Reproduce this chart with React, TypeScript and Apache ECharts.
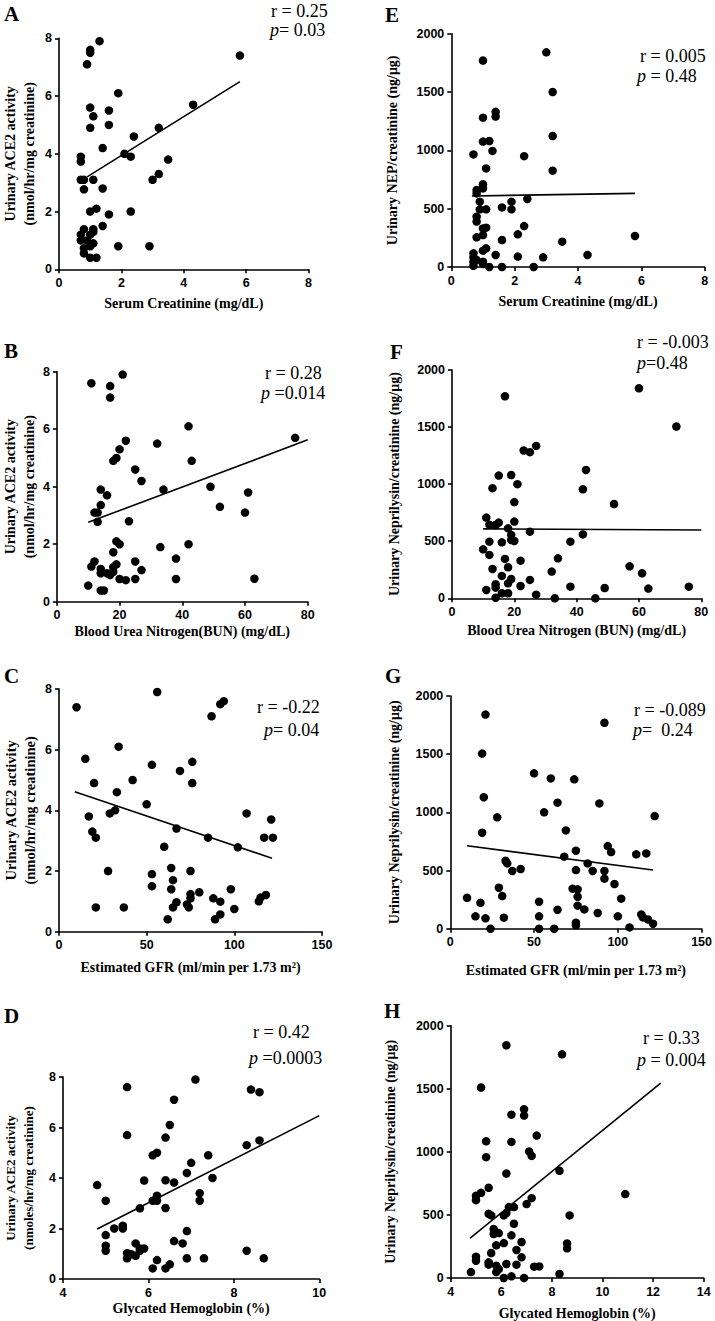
import React, { useEffect, useRef } from 'react';
import * as echarts from 'echarts';

// ---------- Data ----------
const pointsA: number[][] = [
  [1.3, 7.9], [1.0, 7.6], [1.0, 7.5], [0.9, 7.1], [5.8, 7.4], [1.9, 6.1], [1.0, 5.6], [1.6, 5.5], [1.1, 5.3],
  [4.3, 5.7], [1.6, 5.0], [1.0, 4.9], [3.2, 4.9], [2.4, 4.6], [1.4, 4.2], [2.1, 4.0], [0.7, 3.9], [0.7, 3.73],
  [2.3, 3.9], [3.5, 3.8], [3.2, 3.3], [3.0, 3.1], [0.7, 3.1], [0.8, 3.1], [1.1, 3.1], [0.8, 2.77], [1.4, 2.8],
  [1.2, 2.1], [1.0, 2.0], [1.6, 1.9], [2.3, 2.0], [1.4, 1.5], [0.8, 1.39], [1.1, 1.39], [0.7, 1.2], [1.0, 1.2],
  [1.1, 1.3], [0.7, 1.0], [0.9, 1.0], [1.1, 0.9], [1.0, 0.8], [0.8, 0.73], [0.8, 0.55], [1.9, 0.8], [2.9, 0.8],
  [1.0, 0.4], [1.2, 0.4],
];
const fitA: number[][] = [[0.9, 3.2], [5.8, 6.5]];

const pointsE: number[][] = [
  [3.0, 1840], [1.0, 1770], [3.2, 1500], [1.4, 1330], [1.4, 1290], [1.0, 1280], [1.0, 1075], [1.2, 1080],
  [3.2, 1123], [0.7, 965], [1.3, 995], [2.3, 950], [1.1, 845], [3.2, 826], [1.0, 709], [1.0, 674], [0.8, 660],
  [0.8, 631], [2.4, 583], [0.9, 560], [1.9, 560], [1.6, 511], [0.9, 494], [1.1, 494], [1.9, 494], [0.8, 431],
  [0.8, 389], [1.0, 331], [1.1, 337], [2.3, 351], [2.1, 280], [0.8, 254], [5.8, 266], [1.0, 274], [1.6, 231],
  [3.5, 217], [1.1, 160], [1.0, 140], [0.7, 117], [0.7, 83], [0.7, 46], [0.7, 11], [0.8, 60], [1.0, 46],
  [1.0, 26], [1.4, 103], [2.1, 89], [2.9, 83], [4.3, 103], [1.2, 0], [1.6, 0], [2.6, 0],
];
const fitE: number[][] = [[0.65, 609], [5.8, 631]];

const pointsB: number[][] = [
  [11, 7.6], [17, 7.5], [17, 7.1], [21, 7.9], [42, 6.1], [22, 5.6], [32, 5.5], [76, 5.7], [20, 5.3], [19, 5.0],
  [18, 4.9], [43, 4.9], [25, 4.6], [27, 4.2], [14, 3.9], [34, 3.9], [49, 4.0], [16, 3.7], [61, 3.8], [14, 3.36],
  [52, 3.3], [12, 3.1], [13, 3.1], [60, 3.1], [13, 2.78], [23, 2.8], [19, 2.1], [20, 2.0], [42, 2.0], [33, 1.9],
  [18, 1.72], [38, 1.5], [12, 1.4], [25, 1.4], [19, 1.3], [18, 1.2], [11, 1.22], [14, 1.14], [27, 1.1], [14, 0.99],
  [16, 0.99], [18, 1.04], [17, 0.93], [20, 0.79], [22, 0.75], [25, 0.79], [38, 0.79], [63, 0.8], [10, 0.56],
  [14, 0.39], [15, 0.39],
];
const fitB: number[][] = [[10, 2.76], [80, 5.63]];

const pointsF: number[][] = [
  [17, 1770], [60, 1840], [72, 1505], [27, 1335], [23, 1295], [25, 1280], [15, 1075], [19, 1080], [43, 1124],
  [13, 965], [21, 1000], [42, 955], [20, 843], [52, 826], [11, 707], [12, 645], [14, 642], [15, 663], [20, 672],
  [18, 613], [25, 584], [19, 555], [42, 560], [12, 496], [16, 490], [20, 502], [19, 511], [38, 496], [10, 429],
  [12, 380], [17, 345], [34, 350], [22, 330], [13, 257], [18, 272], [32, 234], [57, 280], [61, 219], [16, 196],
  [19, 169], [25, 161], [18, 131], [14, 123], [14, 93], [22, 108], [11, 73], [38, 102], [49, 90], [63, 85],
  [76, 102], [16, 44], [18, 44], [27, 32], [14, 5], [33, 0], [46, 0],
];
const fitF: number[][] = [[10, 608], [80, 598]];

const pointsC: number[][] = [
  [10, 7.4], [56, 7.9], [87, 7.1], [92, 7.5], [94, 7.6], [15, 5.7], [34, 6.1], [53, 5.5], [69, 5.3], [76, 5.6],
  [76, 4.9], [20, 4.9], [42, 5.0], [33, 4.6], [50, 4.2], [17, 3.8], [29, 3.9], [32, 4.0], [107, 3.9], [121, 3.7],
  [19, 3.3], [21, 3.1], [67, 3.4], [85, 3.1], [117, 3.1], [122, 3.1], [60, 2.8], [102, 2.78], [28, 2.0], [64, 2.1],
  [75, 2.0], [53, 1.9], [65, 1.7], [53, 1.5], [64, 1.4], [98, 1.4], [80, 1.3], [75, 1.24], [75, 1.1], [88, 1.1],
  [67, 0.97], [92, 0.99], [114, 1.0], [115, 1.13], [118, 1.21], [73, 0.9], [65, 0.8], [74, 0.8], [21, 0.8],
  [37, 0.8], [100, 0.75], [92, 0.57], [62, 0.41], [89, 0.41],
];
const fitC: number[][] = [[9, 4.61], [121.5, 2.42]];

const pointsG: number[][] = [
  [21, 1840], [92, 1770], [19, 1505], [20, 1130], [50, 1335], [60, 1292], [74, 1284], [64, 1083], [89, 1077],
  [56, 1000], [28, 957], [122, 968], [19, 825], [69, 845], [94, 710], [96, 659], [75, 670], [68, 619], [111, 639],
  [117, 647], [33, 584], [34, 561], [82, 561], [42, 513], [37, 496], [75, 504], [85, 496], [92, 496], [92, 430],
  [98, 384], [29, 352], [73, 344], [76, 338], [31, 281], [76, 275], [10, 266], [102, 258], [53, 232], [18, 223],
  [76, 198], [80, 166], [64, 163], [88, 135], [114, 123], [115, 97], [118, 80], [121, 43], [15, 106], [53, 106],
  [100, 106], [21, 89], [32, 95], [75, 52], [75, 29], [107, 11], [24, 0], [53, 0], [62, 0],
];
const fitG: number[][] = [[10, 713], [121, 505]];

const pointsD: number[][] = [
  [4.8, 3.72], [5.5, 7.6], [5.5, 5.7], [7.1, 7.9], [6.6, 7.1], [8.4, 7.5], [8.6, 7.4], [6.5, 6.1], [6.4, 5.6],
  [8.3, 5.3], [8.6, 5.49], [6.1, 4.9], [6.2, 5.0], [7.4, 4.9], [7.0, 4.6], [6.9, 4.2], [7.5, 4.0], [5.9, 3.9],
  [6.4, 3.91], [6.6, 3.82], [5.0, 3.1], [6.1, 3.1], [6.2, 3.3], [6.2, 3.1], [7.2, 3.4], [7.2, 3.1], [5.8, 2.8],
  [6.4, 2.81], [5.2, 2.0], [5.4, 2.11], [5.4, 2.0], [6.9, 1.9], [5.0, 1.74], [6.6, 1.5], [6.8, 1.41], [5.7, 1.41],
  [5.0, 1.32], [5.0, 1.12], [5.8, 1.21], [5.9, 1.21], [5.8, 1.12], [5.5, 1.02], [5.6, 0.98], [5.7, 0.92],
  [5.5, 0.82], [6.2, 0.75], [6.9, 0.82], [7.3, 0.82], [8.3, 1.12], [8.7, 0.82], [6.1, 0.42], [6.4, 0.42],
  [6.5, 0.58],
];
const fitD: number[][] = [[4.8, 1.98], [10, 6.47]];

const pointsH: number[][] = [
  [6.2, 1845], [8.4, 1773], [5.2, 1510], [6.9, 1338], [6.9, 1288], [6.4, 1295], [7.4, 1129], [5.4, 1084],
  [6.4, 1079], [7.1, 1003], [7.2, 968], [5.4, 958], [6.2, 828], [8.3, 850], [10.9, 665], [5.0, 652], [5.0, 617],
  [5.2, 675], [5.5, 715], [7.2, 633], [7.0, 586], [6.3, 562], [6.5, 562], [5.5, 509], [5.6, 496], [6.1, 496],
  [6.2, 515], [8.7, 496], [6.5, 430], [5.7, 388], [5.7, 348], [5.9, 356], [6.4, 338], [6.1, 277], [6.8, 285],
  [8.6, 274], [8.6, 235], [5.8, 259], [6.6, 222], [5.6, 198], [5.0, 169], [5.0, 137], [6.8, 164], [5.5, 124],
  [5.5, 106], [5.8, 98], [6.2, 111], [6.6, 106], [7.3, 90], [7.5, 92], [5.9, 71], [5.8, 47], [4.8, 47],
  [6.1, 0], [6.4, 13], [6.9, 0], [8.3, 32],
];
const fitH: number[][] = [[4.77, 317], [12.3, 1544]];

// axis ranges [min, max, interval]
const xRangeCreat = [0, 8, 2];
const xRangeBUN = [0, 80, 20];
const xRangeGFR = [0, 150, 50];
const xRangeHbA1cD = [4, 10, 2];
const xRangeHbA1cH = [4, 14, 2];
const yRangeACE2 = [0, 8, 2];
const yRangeNEP = [0, 2000, 500];

// labels
const panelLetters = ['A', 'E', 'B', 'F', 'C', 'G', 'D', 'H'];
const rTexts = ['r = 0.25', 'r = 0.005', 'r = 0.28', 'r = -0.003', 'r = -0.22', 'r = -0.089', 'r = 0.42', 'r = 0.33'];
const pTexts = ['= 0.03', ' = 0.48', ' =0.014', '=0.48', '= 0.04', '=  0.24', ' =0.0003', ' = 0.004'];
const xNames = [
  'Serum Creatinine (mg/dL)',
  'Serum Creatinine (mg/dL)',
  'Blood Urea Nitrogen(BUN) (mg/dL)',
  'Blood Urea Nitrogen (BUN) (mg/dL)',
  'Estimated GFR (ml/min per 1.73 m²)',
  'Estimated GFR (ml/min per 1.73 m²)',
  'Glycated Hemoglobin (%)',
  'Glycated Hemoglobin (%)',
];
const yNames = [
  'Urinary ACE2 activity\n(nmol/hr/mg creatinine)',
  'Urinary NEP/creatinine (ng/μg)',
  'Urinary ACE2 activity\n(nmol/hr/mg creatinine)',
  'Urinary Neprilysin/creatinine (ng/μg)',
  'Urinary ACE2 activity\n(nmol/hr/mg creatinine)',
  'Urinary Neprilysin/creatinine (ng/μg)',
  'Urinary ACE2 activity\n(nmoles/hr/mg creatinine)',
  'Urinary Neprilysin/creatinine (ng/μg)',
];

const serif = '"Liberation Serif", "Times New Roman", serif';
const sans = '"Liberation Sans", Arial, sans-serif';

export default function App() {
  const ref = useRef<HTMLDivElement>(null);
  useEffect(() => {
    if (!ref.current) return;
    const chart = echarts.init(ref.current, undefined, { renderer: 'svg' });

    const panels = [
      { pts: pointsA, fit: fitA, xr: xRangeCreat, yr: yRangeACE2, g: { left: 57.3, top: 38.3, width: 251.2, height: 231 }, yGap: 20, xGap: 27, yFs: 14, letter: [4, 14], r: [271, 11], p: [270, 30] },
      { pts: pointsE, fit: fitE, xr: xRangeCreat, yr: yRangeNEP, g: { left: 451.3, top: 33.7, width: 253.4, height: 233.3 }, yGap: 49, xGap: 27, yFs: 14, letter: [385, 15], r: [640, 56], p: [637, 76] },
      { pts: pointsB, fit: fitB, xr: xRangeBUN, yr: yRangeACE2, g: { left: 56.7, top: 371.7, width: 251, height: 230 }, yGap: 17, xGap: 23, yFs: 14, letter: [4, 351], r: [265, 373], p: [261, 393] },
      { pts: pointsF, fit: fitF, xr: xRangeBUN, yr: yRangeNEP, g: { left: 452, top: 370, width: 249.3, height: 228.3 }, yGap: 48, xGap: 25, yFs: 14, letter: [390, 352], r: [637, 342], p: [637, 363] },
      { pts: pointsC, fit: fitC, xr: xRangeGFR, yr: yRangeACE2, g: { left: 58.3, top: 689, width: 263.7, height: 242.7 }, yGap: 19, xGap: 29, yFs: 14.5, letter: [4, 676], r: [257, 707], p: [264, 730] },
      { pts: pointsG, fit: fitG, xr: xRangeGFR, yr: yRangeNEP, g: { left: 450.3, top: 696, width: 253.4, height: 232.7 }, yGap: 46, xGap: 35, yFs: 14, letter: [385, 676], r: [634, 710], p: [633, 730] },
      { pts: pointsD, fit: fitD, xr: xRangeHbA1cD, yr: yRangeACE2, g: { left: 58.7, top: 1077, width: 260.6, height: 202 }, yGap: 26, xGap: 22, yFs: 13, letter: [4, 1016], r: [253, 1032], p: [249, 1058] },
      { pts: pointsH, fit: fitH, xr: xRangeHbA1cH, yr: yRangeNEP, g: { left: 450.7, top: 1025.7, width: 253, height: 252.6 }, yGap: 51, xGap: 28, yFs: 14, letter: [384, 1011], r: [643, 1038], p: [637, 1060] },
    ];

    const axisLine = { show: true, onZero: false, lineStyle: { color: '#000', width: 1.6 } };
    const axisTick = { show: true, inside: false, length: 4, lineStyle: { color: '#000', width: 1.6 } };
    const axisLabel = {
      color: '#000', fontFamily: sans, fontWeight: 'bold' as const, fontSize: 12.5, margin: 7,
      formatter: (v: number) => String(v),
    };

    const grid = panels.map((p) => ({ ...p.g, containLabel: false }));
    const xAxis = panels.map((p, i) => ({
      type: 'value' as const,
      gridIndex: i,
      min: p.xr[0], max: p.xr[1], interval: p.xr[2],
      axisLine, axisTick, axisLabel,
      splitLine: { show: false },
      name: xNames[i],
      nameLocation: 'middle' as const,
      nameGap: p.xGap,
      nameTextStyle: { color: '#000', fontFamily: serif, fontWeight: 'bold' as const, fontSize: 14 },
    }));
    const yAxis = panels.map((p, i) => ({
      type: 'value' as const,
      gridIndex: i,
      min: p.yr[0], max: p.yr[1], interval: p.yr[2],
      axisLine, axisTick, axisLabel,
      splitLine: { show: false },
      name: yNames[i],
      nameLocation: 'middle' as const,
      nameGap: p.yGap,
      nameTextStyle: { color: '#000', fontFamily: serif, fontWeight: 'bold' as const, fontSize: p.yFs, lineHeight: p.yFs + 5 },
    }));
    const series: any[] = [];
    panels.forEach((p, i) => {
      series.push({
        type: 'scatter', xAxisIndex: i, yAxisIndex: i, data: p.pts,
        symbol: 'circle', symbolSize: 8.5, clip: false,
        itemStyle: { color: '#000', opacity: 1 },
      });
      series.push({
        type: 'line', xAxisIndex: i, yAxisIndex: i, data: p.fit,
        showSymbol: false, symbol: 'none', clip: false,
        lineStyle: { color: '#000', width: 1.6 },
      });
    });

    const graphic: any[] = [];
    panels.forEach((p, i) => {
      graphic.push({
        type: 'text', x: p.letter[0], y: p.letter[1],
        style: { text: panelLetters[i], font: `bold 21px ${serif}`, fill: '#000', verticalAlign: 'middle' },
      });
      graphic.push({
        type: 'text', x: p.r[0], y: p.r[1],
        style: { text: rTexts[i], font: `18px ${serif}`, fill: '#000', verticalAlign: 'middle' },
      });
      graphic.push({
        type: 'text', x: p.p[0], y: p.p[1],
        style: {
          text: `{i|p}{n|${pTexts[i]}}`,
          font: `18px ${serif}`, fill: '#000', verticalAlign: 'middle',
          rich: {
            i: { font: `italic 18px ${serif}`, fill: '#000' },
            n: { font: `18px ${serif}`, fill: '#000' },
          },
        },
      });
    });

    chart.setOption({
      animation: false,
      backgroundColor: '#fff',
      grid, xAxis, yAxis, series, graphic,
    });
    return () => chart.dispose();
  }, []);

  return <div ref={ref} style={{ position: 'absolute', left: 0, top: 0, width: 715, height: 1321 }} />;
}
